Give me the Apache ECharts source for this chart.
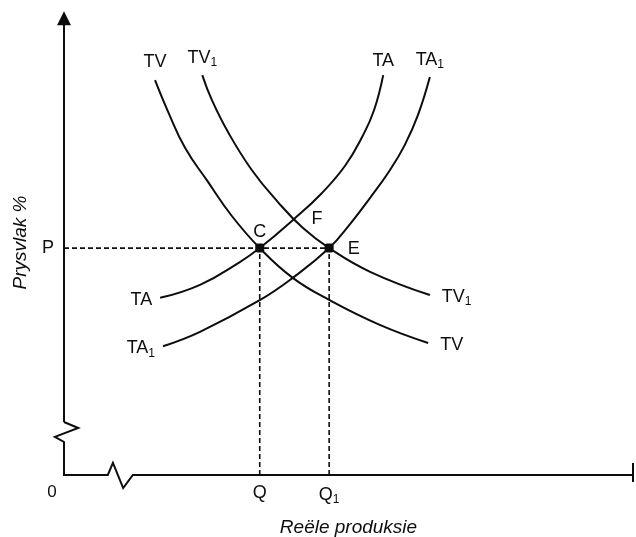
<!DOCTYPE html>
<html>
<head>
<meta charset="utf-8">
<script src="https://cdn.jsdelivr.net/npm/echarts@6/dist/echarts.min.js"></script>
<style>
html, body { margin: 0; padding: 0; background: #fff; }
#chart { width: 636px; height: 537px; }
</style>
</head>
<body>
<div id="chart"></div>
<script>
// curves, [reele produksie, prysvlak], 0..100 scale
var tv  = [[16.0,84.9],[18.3,78.1],[21.3,70.3],[25.1,63.4],[29.5,55.7],[34.4,48.8],[40.2,42.4],[46.7,37.6],[55.5,32.3],[64.0,28.4]];
var tv1 = [[24.3,86.0],[26.0,80.6],[28.8,73.8],[33.0,65.6],[37.6,58.7],[42.0,53.1],[46.6,48.8],[53.8,43.7],[64.3,38.7]];
var ta  = [[16.9,38.1],[23.9,40.9],[30.9,45.8],[34.4,48.8],[40.2,54.8],[45.3,60.6],[49.4,66.5],[52.4,72.7],[54.5,78.5],[56.1,86.0]];
var ta1 = [[17.4,27.7],[23.9,30.8],[34.4,37.6],[40.2,42.4],[46.6,48.8],[50.3,54.0],[53.8,59.6],[57.3,65.6],[59.9,71.0],[62.2,77.4],[64.3,85.6]];

// equilibrium values
var P = 48.8, Q = 34.4, Q1 = 46.6;
var F = [40.0, 55.0];

// axis outline with the two breaks, then the arrowed top part
var axisPath = [[100,0],[12.1,0],[10.4,-2.8],[8.6,2.6],[7.7,0],[0,0],[0,7.1],[-1.6,8.2],[2.5,10.1],[0,11.4]];
var axisTop = [[0,11.4],[0,98.2]];
var axisEnd = [[100,-1.5],[100,2.6]];

var ink = '#0d0d0d';
var font = 'Liberation Sans';
var rich = {
	a: { fontSize: 18, fontFamily: font, color: ink },
	s: { fontSize: 12, fontFamily: font, color: ink, padding: [10, 0, 0, 0] }
};

function lbl(text, pos, dist, off){
	return { show: true, position: pos, distance: dist, offset: off || [0, 0], formatter: text, rich: rich };
}

function curve(pts, first, last){
	var data = pts.map(function(p){ return { value: p }; });
	data[0].label = first;
	data[data.length - 1].label = last;
	return {
		type: 'line', data: data, smooth: 0.45,
		showSymbol: true, symbolSize: 0, silent: true,
		lineStyle: { color: ink, width: 2 },
		itemStyle: { color: ink },
		label: { show: false }
	};
}

var myChart = echarts.init(document.getElementById('chart'));

var option = {
	animation: false,
	grid: { left: 64, right: 3, top: 10, bottom: 62, outerBoundsMode: 'none', containLabel: false },
	xAxis: {
		type: 'value', min: 0, max: 100,
		axisLine: { show: false }, axisTick: { show: false }, splitLine: { show: false },
		name: 'Reële produksie', nameLocation: 'middle', nameGap: 43,
		nameTextStyle: { fontSize: 19, fontStyle: 'italic', fontFamily: font, color: ink },
		axisLabel: {
			customValues: [0, Q, Q1], margin: 9, showMinLabel: true,
			formatter: function(v){
				if (v === 0) return '{o|0}';
				if (Math.abs(v - Q) < 0.01) return '{a|Q}';
				return '{a|Q}{s|1}';
			},
			rich: {
				a: rich.a, s: rich.s,
				o: { fontSize: 17, fontFamily: font, color: ink, padding: [0, 24, 0, 0] }
			}
		}
	},
	yAxis: {
		type: 'value', min: 0, max: 100,
		axisLine: { show: false }, axisTick: { show: false }, splitLine: { show: false },
		name: 'Prysvlak %', nameLocation: 'middle', nameGap: 34,
		nameTextStyle: { fontSize: 19, fontStyle: 'italic', fontFamily: font, color: ink },
		axisLabel: {
			customValues: [P], margin: 10,
			formatter: function(){ return 'P'; },
			fontSize: 18, fontFamily: font, color: ink, padding: [4, 0, 0, 0]
		}
	},
	series: [
		{
			type: 'lines', coordinateSystem: 'cartesian2d', polyline: true, silent: true, clip: false,
			lineStyle: { color: ink, width: 2, opacity: 1 },
			data: [{ coords: axisPath }, { coords: axisEnd }]
		},
		{
			type: 'lines', coordinateSystem: 'cartesian2d', silent: true, clip: false,
			symbol: ['none', 'triangle'], symbolSize: [15, 14],
			lineStyle: { color: ink, width: 2, opacity: 1 },
			itemStyle: { color: ink },
			data: [{ coords: axisTop }]
		},
		{
			type: 'lines', coordinateSystem: 'cartesian2d', polyline: true, silent: true,
			lineStyle: { color: ink, width: 1.6, type: [5, 3], opacity: 1 },
			data: [
				{ coords: [[0, P], [Q1, P]] },
				{ coords: [[Q, 0], [Q, P]] },
				{ coords: [[Q1, 0], [Q1, P]] }
			]
		},
		curve(tv,  lbl('{a|TV}', 'top', 9),            lbl('{a|TV}', 'right', 12, [0, 2])),
		curve(tv1, lbl('{a|TV}{s|1}', 'top', 6),       lbl('{a|TV}{s|1}', 'right', 12, [0, 2])),
		curve(ta,  lbl('{a|TA}', 'left', 8, [0, 2]),   lbl('{a|TA}', 'top', 5)),
		curve(ta1, lbl('{a|TA}{s|1}', 'left', 8, [0, 2]), lbl('{a|TA}{s|1}', 'top', 6)),
		{
			type: 'scatter', symbol: 'roundRect', symbolSize: 9, silent: true,
			itemStyle: { color: ink, opacity: 1 },
			data: [
				{ value: [Q, P], label: lbl('{a|C}', 'top', 3) },
				{ value: [Q1, P], label: lbl('{a|E}', 'right', 14, [0, 1]) }
			]
		},
		{
			type: 'scatter', symbolSize: 0, silent: true,
			itemStyle: { color: ink, opacity: 1 },
			data: [{ value: F, label: lbl('{a|F}', 'right', 20, [0, 0]) }]
		}
	]
};

myChart.setOption(option);
</script>
</body>
</html>
